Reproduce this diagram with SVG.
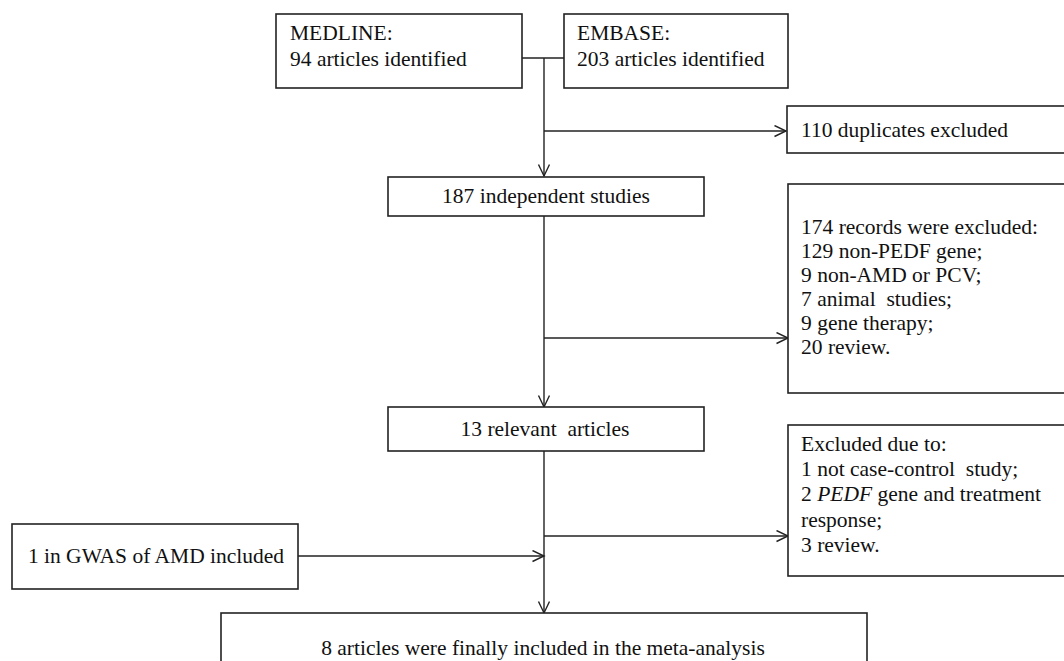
<svg xmlns="http://www.w3.org/2000/svg" width="1064" height="661" viewBox="0 0 1064 661">
<style>
.box{fill:#fff;stroke:#222;stroke-width:1.6}
.ln{fill:none;stroke:#222;stroke-width:1.4}
text{font-family:"Liberation Serif","Times New Roman",serif;font-size:21.5px;fill:#111}
.c{text-anchor:middle}
</style>
<defs>
<marker id="arr" markerWidth="14" markerHeight="14" refX="12" refY="6" orient="auto" markerUnits="userSpaceOnUse">
<path d="M0.5,0.5 L12,6 L0.5,11.5" fill="none" stroke="#222" stroke-width="1.4"/>
</marker>
</defs>
<rect width="1064" height="661" fill="#fff"/>
<g id="connectors">
<path class="ln" d="M522,58 H564"/>
<path class="ln" d="M544,58 V176" marker-end="url(#arr)"/>
<path class="ln" d="M544,131 H786" marker-end="url(#arr)"/>
<path class="ln" d="M544,216 V407" marker-end="url(#arr)"/>
<path class="ln" d="M544,338 H788" marker-end="url(#arr)"/>
<path class="ln" d="M544,451 V613" marker-end="url(#arr)"/>
<path class="ln" d="M544,536 H788" marker-end="url(#arr)"/>
<path class="ln" d="M298,556 H544" marker-end="url(#arr)"/>
</g>
<g id="medline">
<rect class="box" x="276" y="14" width="246" height="74"/>
<text x="290" y="40">MEDLINE:</text>
<text x="290" y="66">94 articles identified</text>
</g>
<g id="embase">
<rect class="box" x="564" y="14" width="224" height="74"/>
<text x="577" y="40">EMBASE:</text>
<text x="577" y="66">203 articles identified</text>
</g>
<g id="duplicates">
<rect class="box" x="787" y="106" width="290" height="47"/>
<text x="801" y="137">110 duplicates excluded</text>
</g>
<g id="independent">
<rect class="box" x="388" y="177" width="316" height="39"/>
<text class="c" x="546" y="203">187 independent studies</text>
</g>
<g id="excluded174">
<rect class="box" x="788" y="184" width="290" height="209"/>
<text x="801" y="234">174 records were excluded:</text>
<text x="801" y="258">129 non-PEDF gene;</text>
<text x="801" y="282">9 non-AMD or PCV;</text>
<text x="801" y="306">7 animal&#160; studies;</text>
<text x="801" y="330">9 gene therapy;</text>
<text x="801" y="354">20 review.</text>
</g>
<g id="relevant">
<rect class="box" x="388" y="407" width="316" height="44"/>
<text class="c" x="545" y="436">13 relevant&#160; articles</text>
</g>
<g id="excluded2">
<rect class="box" x="788" y="425" width="290" height="151"/>
<text x="801" y="451">Excluded due to:</text>
<text x="801" y="476">1 not case-control&#160; study;</text>
<text x="801" y="501">2 <tspan font-style="italic">PEDF</tspan> gene and treatment</text>
<text x="801" y="527">response;</text>
<text x="801" y="552">3 review.</text>
</g>
<g id="gwas">
<rect class="box" x="12" y="524" width="286" height="65"/>
<text class="c" x="156" y="563">1 in GWAS of AMD included</text>
</g>
<g id="final">
<rect class="box" x="221" y="613" width="646" height="60"/>
<text class="c" x="543" y="655">8 articles were finally included in the meta-analysis</text>
</g>
</svg>
